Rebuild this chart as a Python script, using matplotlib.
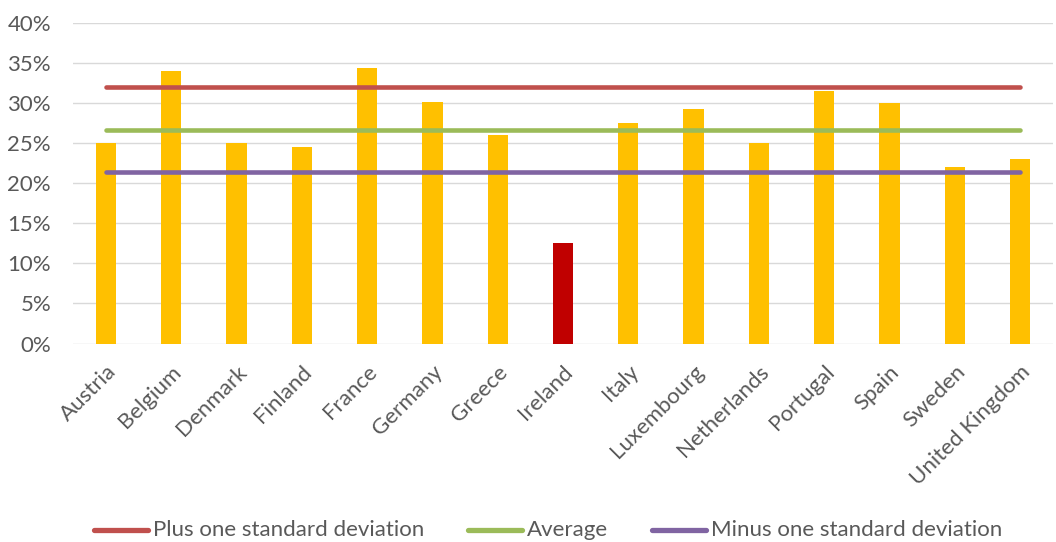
import matplotlib
matplotlib.use("Agg")
import matplotlib.pyplot as plt
from matplotlib.lines import Line2D
from matplotlib.ticker import FuncFormatter, MultipleLocator

countries = ["Austria", "Belgium", "Denmark", "Finland", "France", "Germany",
             "Greece", "Ireland", "Italy", "Luxembourg", "Netherlands",
             "Portugal", "Spain", "Sweden", "United Kingdom"]
shares = [25.0, 34.0, 25.0, 24.5, 34.4, 30.2, 26.0, 12.5, 27.5, 29.3, 25.0,
          31.5, 30.0, 22.0, 23.0]
highlight = "Ireland"

plus_sd = 32.0
average = 26.7
minus_sd = 21.4

bar_color = "#FFC000"
highlight_color = "#C00000"
line_colors = {"plus": "#C0504D", "avg": "#9BBB59", "minus": "#8064A2"}
text_color = "#595959"

plt.rcParams["font.family"] = ["Lato", "DejaVu Sans"]

fig = plt.figure(figsize=(10.56, 5.42), dpi=100)
ax = fig.add_axes([73.3 / 1056, 198.5 / 542, 979.4 / 1056, 320.5 / 542])

x = list(range(len(countries)))
colors = [highlight_color if c == highlight else bar_color for c in countries]
ax.bar(x, shares, width=0.31, color=colors, zorder=2)

for val, key in ((plus_sd, "plus"), (average, "avg"), (minus_sd, "minus")):
    ax.plot([x[0], x[-1]], [val, val], color=line_colors[key], lw=3.3,
            solid_capstyle="round", zorder=3)

ax.set_xlim(-0.5, len(countries) - 0.5)
ax.set_ylim(0, 40)
ax.yaxis.set_major_locator(MultipleLocator(5))
ax.yaxis.set_major_formatter(FuncFormatter(lambda v, _: f"{v:.0f}%"))
ax.grid(axis="y", color="#D9D9D9", lw=1.0, zorder=0)
for s in ax.spines.values():
    s.set_visible(False)
ax.tick_params(axis="both", length=0, colors=text_color, labelsize=16)
ax.tick_params(axis="y", pad=16)
ax.set_xticks(x)
ax.set_xticklabels(countries, rotation=45, ha="right", va="top",
                   rotation_mode="anchor")
ax.tick_params(axis="x", pad=13)

# legend drawn in figure pixel coordinates
W, H = 1056, 542
items = [("Plus one standard deviation", "plus", 94),
         ("Average", "avg", 468),
         ("Minus one standard deviation", "minus", 652)]
ly = (H - 530) / H
for label, key, x0 in items:
    fig.add_artist(Line2D([x0 / W, (x0 + 54) / W], [ly, ly],
                          color=line_colors[key], lw=3.8,
                          solid_capstyle="round", transform=fig.transFigure))
    fig.text((x0 + 59) / W, ly, label, color=text_color, fontsize=16,
             va="center", ha="left")

fig.savefig("out.png", dpi=100)
